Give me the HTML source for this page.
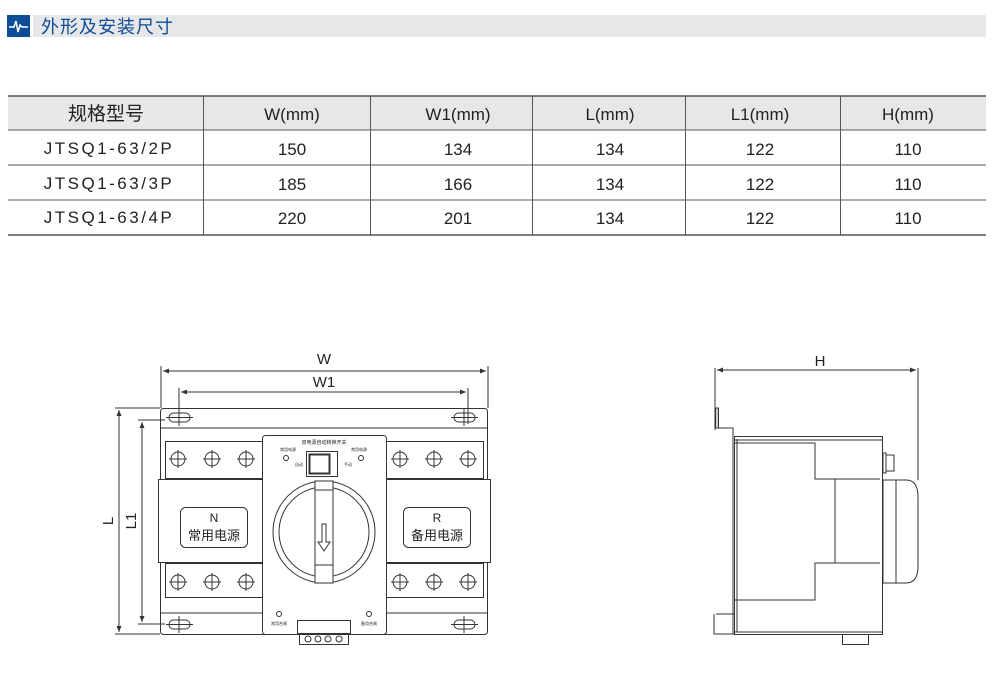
<!DOCTYPE html>
<html><head><meta charset="utf-8"><style>
body{margin:0;background:#fff;}
svg{display:block;}
text{font-family:"Liberation Sans","Noto Sans CJK SC",sans-serif;fill:#222;}
</style></head><body>
<svg width="1000" height="691" viewBox="0 0 1000 691" xmlns="http://www.w3.org/2000/svg">
<!-- header -->
<rect x="7" y="15" width="23" height="22" fill="#0f4c97"/>
<polyline points="9,27 14,27 16,21 18,32 20,25 22,27 28,27" fill="none" stroke="#fff" stroke-width="1.5"/>
<rect x="33" y="15" width="953" height="22" fill="#e6e7e8"/>
<text x="41" y="33" font-size="18" fill="#0f4c97" style="fill:#0f4c97;letter-spacing:1px">外形及安装尺寸</text>
<!-- table -->
<rect x="8" y="96" width="978" height="34" fill="#e6e7e8"/>
<g stroke="#555" stroke-width="1">
<line x1="8" y1="96" x2="986" y2="96" stroke-width="1.5"/>
<line x1="8" y1="130" x2="986" y2="130"/>
<line x1="8" y1="165" x2="986" y2="165"/>
<line x1="8" y1="200" x2="986" y2="200"/>
<line x1="8" y1="235" x2="986" y2="235" stroke-width="1.5"/>
<line x1="203.5" y1="96" x2="203.5" y2="235"/>
<line x1="370.5" y1="96" x2="370.5" y2="235"/>
<line x1="532.5" y1="96" x2="532.5" y2="235"/>
<line x1="685.5" y1="96" x2="685.5" y2="235"/>
<line x1="840.5" y1="96" x2="840.5" y2="235"/>
</g>
<g font-size="17" text-anchor="middle">
<text x="106" y="120" font-size="19">规格型号</text>
<text x="292" y="120">W(mm)</text><text x="458" y="120">W1(mm)</text><text x="610" y="120">L(mm)</text><text x="760" y="120">L1(mm)</text><text x="908" y="120">H(mm)</text>
<text x="109" y="154" style="letter-spacing:2.5px">JTSQ1-63/2P</text>
<text x="109" y="189" style="letter-spacing:2.5px">JTSQ1-63/3P</text>
<text x="109" y="223" style="letter-spacing:2.5px">JTSQ1-63/4P</text>
<text x="292" y="155">150</text><text x="458" y="155">134</text><text x="610" y="155">134</text><text x="760" y="155">122</text><text x="908" y="155">110</text>
<text x="292" y="190">185</text><text x="458" y="190">166</text><text x="610" y="190">134</text><text x="760" y="190">122</text><text x="908" y="190">110</text>
<text x="292" y="224">220</text><text x="458" y="224">201</text><text x="610" y="224">134</text><text x="760" y="224">122</text><text x="908" y="224">110</text>
</g>
<!-- front view -->
<g fill="none" stroke="#333" stroke-width="1">
<line x1="161" y1="366" x2="161" y2="408"/><line x1="488" y1="366" x2="488" y2="408"/>
<line x1="163" y1="371" x2="486" y2="371"/>
<line x1="179" y1="388" x2="179" y2="424"/><line x1="468" y1="388" x2="468" y2="424"/>
<line x1="181" y1="392" x2="466" y2="392"/>
<line x1="115" y1="408" x2="160" y2="408"/><line x1="115" y1="634" x2="160" y2="634"/>
<line x1="119" y1="410" x2="119" y2="632"/>
<line x1="138" y1="420" x2="165" y2="420"/><line x1="138" y1="624" x2="165" y2="624"/>
<line x1="142" y1="422" x2="142" y2="622"/>
<rect x="160.5" y="408.5" width="327" height="226" rx="3"/>
<line x1="160" y1="428" x2="487" y2="428"/>
<line x1="160" y1="613" x2="262" y2="613"/><line x1="386" y1="613" x2="487" y2="613"/>
<rect x="165.5" y="441.5" width="318" height="37"/>
<rect x="165.5" y="563.5" width="318" height="34"/>
<rect x="158.5" y="479.5" width="332" height="83" fill="#fff"/>
<rect x="180.5" y="507.5" width="67" height="40" rx="5"/>
<rect x="403.5" y="507.5" width="67" height="40" rx="5"/>
<rect x="262.5" y="435.5" width="124" height="199" rx="3" fill="#fff"/>
<circle cx="324" cy="532" r="51"/>
<circle cx="324" cy="532" r="45"/>
<rect x="315" y="481" width="18" height="102" fill="#fff"/>
<line x1="315" y1="490" x2="333" y2="490"/><line x1="315" y1="565" x2="333" y2="565"/>
<path d="M322 524 v18 h-4 l6 9 6-9 h-4 v-18 z"/>
<rect x="306.5" y="451.5" width="31" height="25"/>
<rect x="309.5" y="454.5" width="20" height="19" stroke-width="2"/>
<circle cx="286" cy="458" r="2.5"/><circle cx="361" cy="458" r="2.5"/>
<circle cx="279" cy="614" r="2.5"/><circle cx="369" cy="614" r="2.5"/>
<rect x="297.5" y="620.5" width="53" height="13"/>
<rect x="299.5" y="633.5" width="49" height="11"/>
<circle cx="308" cy="639" r="3"/><circle cx="318" cy="639" r="3"/><circle cx="328" cy="639" r="3"/><circle cx="339" cy="639" r="3"/>
</g>
<g fill="#333" stroke="none">
<path d="M163 371 l6 -2.5 v5z"/><path d="M486 371 l-6 -2.5 v5z"/>
<path d="M181 392 l6 -2.5 v5z"/><path d="M466 392 l-6 -2.5 v5z"/>
<path d="M119 410 l-2.5 6 h5z"/><path d="M119 632 l-2.5 -6 h5z"/>
<path d="M142 422 l-2.5 6 h5z"/><path d="M142 622 l-2.5 -6 h5z"/>
</g>
<g fill="none" stroke="#333" stroke-width="1">
<g id="h"><rect x="169" y="413" width="21" height="9" rx="4.5"/><line x1="179" y1="409" x2="179" y2="426"/><line x1="166" y1="417.5" x2="193" y2="417.5"/></g>
<use href="#h" x="285"/><use href="#h" y="207"/><use href="#h" x="285" y="207"/>
<g id="t"><circle cx="178" cy="459" r="7"/><line x1="178" y1="450" x2="178" y2="468"/><line x1="169" y1="459" x2="187" y2="459"/></g>
<use href="#t" x="34"/><use href="#t" x="68"/><use href="#t" x="222"/><use href="#t" x="256"/><use href="#t" x="290"/>
<use href="#t" y="123"/><use href="#t" x="34" y="123"/><use href="#t" x="68" y="123"/><use href="#t" x="222" y="123"/><use href="#t" x="256" y="123"/><use href="#t" x="290" y="123"/>
</g>
<g text-anchor="middle">
<text x="324" y="364" font-size="15">W</text>
<text x="324" y="387" font-size="15">W1</text>
<text x="214" y="522" font-size="12">N</text><text x="214" y="540" font-size="13">常用电源</text>
<text x="437" y="522" font-size="12">R</text><text x="437" y="540" font-size="13">备用电源</text>
<text x="324" y="444" font-size="5">双电源自动转换开关</text>
<text x="288" y="451" font-size="4">常用电源</text><text x="359" y="451" font-size="4">常用电源</text>
<text x="299" y="466" font-size="4">自动</text><text x="348" y="466" font-size="4">手动</text>
<text x="279" y="625" font-size="4">常用合闸</text><text x="369" y="625" font-size="4">备用合闸</text>
<text x="113" y="521" font-size="15" transform="rotate(-90 113 521)">L</text>
<text x="136" y="521" font-size="15" transform="rotate(-90 136 521)">L1</text>
<text x="820" y="366" font-size="15">H</text>
</g>
<!-- side view -->
<g fill="none" stroke="#333" stroke-width="1">
<line x1="715" y1="368" x2="715" y2="430"/><line x1="918" y1="368" x2="918" y2="480"/>
<line x1="717" y1="370" x2="916" y2="370"/>
<path d="M715 408 v20 h18 v206"/>
<rect x="715.5" y="408" width="3" height="20" fill="#ccc"/>
<path d="M714 614 v20 h20"/><path d="M716 614 h18"/>
<rect x="734.5" y="436.5" width="148" height="198"/>
<line x1="737" y1="439" x2="737" y2="632"/>
<line x1="734" y1="440" x2="882" y2="440"/><line x1="734" y1="632" x2="882" y2="632"/>
<path d="M735 443 h80 v36 h65 M835 479 v84 M880 563 h-65 v37 h-80"/>
<rect x="883" y="453" width="3" height="20"/><rect x="886" y="455" width="8" height="16"/>
<path d="M883 480 h23 q12 0 12 17 v69 q0 17 -12 17 h-23 z"/>
<line x1="896" y1="480" x2="896" y2="583"/>
<rect x="842.5" y="634.5" width="26" height="10"/>
</g>
<g fill="#333"><path d="M717 370 l6 -2.5 v5z"/><path d="M916 370 l-6 -2.5 v5z"/></g>
</svg>
</body></html>
